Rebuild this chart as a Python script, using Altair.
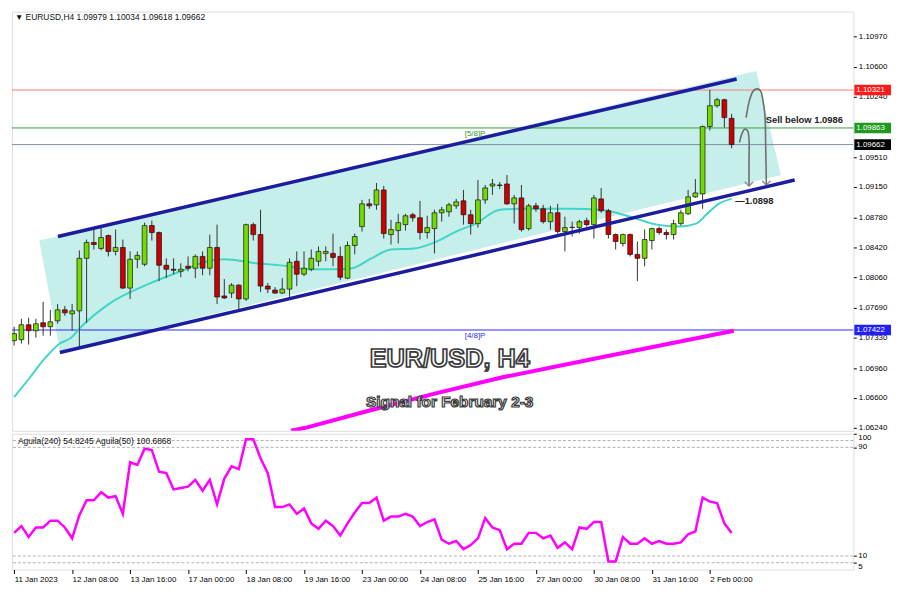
import altair as alt
import pandas as pd

# ---------------- data ----------------
bar_index = list(range(100))
opens = [1.07293, 1.07305, 1.07485, 1.07413, 1.07509, 1.07461, 1.07533, 1.07665, 1.07617, 1.07653,
         1.08288, 1.08479, 1.08407, 1.08563, 1.08371, 1.08419, 1.07928, 1.08276, 1.08216, 1.08683,
         1.08599, 1.08204, 1.08156, 1.08132, 1.08192, 1.08168, 1.08311, 1.08168, 1.08419, 1.07833,
         1.07868, 1.07964, 1.07797, 1.08695, 1.08575, 1.07952, 1.07904, 1.07868, 1.07916, 1.08252,
         1.08096, 1.08156, 1.08252, 1.08347, 1.08347, 1.08311, 1.08048, 1.08443, 1.08671, 1.08946,
         1.08934, 1.09114, 1.08575, 1.08623, 1.08695, 1.08814, 1.08778, 1.08599, 1.08647, 1.08838,
         1.08850, 1.08922, 1.08982, 1.08814, 1.08707, 1.08994, 1.09162, 1.09174, 1.09186, 1.08946,
         1.09018, 1.08647, 1.08922, 1.08886, 1.08731, 1.08838, 1.08611, 1.08659, 1.08659, 1.08743,
         1.08695, 1.09006, 1.08862, 1.08575, 1.08467, 1.08575, 1.08335, 1.08288, 1.08503, 1.08647,
         1.08599, 1.08575, 1.08707, 1.08826, 1.09030, 1.09066, 1.09880, 1.10132, 1.10204, 1.09979]
highs = [1.07461, 1.07557, 1.07569, 1.07557, 1.07761, 1.07665, 1.07737, 1.07713, 1.07737, 1.08383,
         1.08515, 1.08647, 1.08659, 1.08575, 1.08635, 1.08515, 1.08371, 1.08371, 1.08719, 1.08743,
         1.08611, 1.08288, 1.08288, 1.08228, 1.08311, 1.08335, 1.08371, 1.08575, 1.08695, 1.08036,
         1.07988, 1.07976, 1.08707, 1.08719, 1.08874, 1.07988, 1.07940, 1.08048, 1.08288, 1.08371,
         1.08371, 1.08395, 1.08431, 1.08431, 1.08587, 1.08431, 1.08491, 1.08587, 1.08994, 1.09006,
         1.09198, 1.09162, 1.08754, 1.08826, 1.08826, 1.08838, 1.08982, 1.08802, 1.08874, 1.08910,
         1.08958, 1.09006, 1.09114, 1.08874, 1.09234, 1.09174, 1.09246, 1.09210, 1.09294, 1.09054,
         1.09174, 1.08946, 1.08958, 1.08934, 1.08922, 1.08946, 1.08790, 1.08731, 1.08754, 1.08778,
         1.09054, 1.09138, 1.08886, 1.08587, 1.08587, 1.08587, 1.08491, 1.08635, 1.08659, 1.08671,
         1.08635, 1.08754, 1.08874, 1.09114, 1.09246, 1.09892, 1.10323, 1.10228, 1.10216, 1.10034]
lows = [1.07234, 1.07258, 1.07246, 1.07330, 1.07353, 1.07353, 1.07497, 1.07593, 1.07413, 1.07210,
        1.07509, 1.08395, 1.08383, 1.08311, 1.08323, 1.07916, 1.07797, 1.08168, 1.08192, 1.08503,
        1.08012, 1.08048, 1.08096, 1.08060, 1.08132, 1.08048, 1.08084, 1.08084, 1.07737, 1.07797,
        1.07809, 1.07665, 1.07773, 1.08503, 1.07880, 1.07868, 1.07857, 1.07857, 1.07809, 1.07952,
        1.08072, 1.08132, 1.08192, 1.08252, 1.08192, 1.08024, 1.08036, 1.08335, 1.08611, 1.08886,
        1.08874, 1.08527, 1.08455, 1.08467, 1.08623, 1.08731, 1.08515, 1.08527, 1.08347, 1.08731,
        1.08790, 1.08886, 1.08695, 1.08575, 1.08659, 1.08946, 1.09054, 1.09126, 1.08934, 1.08707,
        1.08611, 1.08623, 1.08850, 1.08707, 1.08635, 1.08587, 1.08371, 1.08551, 1.08587, 1.08671,
        1.08527, 1.08838, 1.08527, 1.08395, 1.08431, 1.08311, 1.08012, 1.08192, 1.08395, 1.08575,
        1.08515, 1.08515, 1.08683, 1.08814, 1.09018, 1.08886, 1.09832, 1.10108, 1.09868, 1.09618]
closes = [1.07378, 1.07485, 1.07413, 1.07497, 1.07461, 1.07521, 1.07665, 1.07629, 1.07653, 1.08288,
          1.08479, 1.08455, 1.08539, 1.08371, 1.08419, 1.07928, 1.08276, 1.08323, 1.08683, 1.08599,
          1.08204, 1.08156, 1.08144, 1.08156, 1.08168, 1.08311, 1.08168, 1.08419, 1.07821, 1.07809,
          1.07964, 1.07797, 1.08695, 1.08575, 1.07952, 1.07916, 1.07868, 1.07916, 1.08240, 1.08096,
          1.08168, 1.08288, 1.08371, 1.08371, 1.08299, 1.08060, 1.08443, 1.08551, 1.08946, 1.08922,
          1.09114, 1.08587, 1.08635, 1.08719, 1.08802, 1.08778, 1.08599, 1.08659, 1.08838, 1.08874,
          1.08934, 1.08970, 1.08814, 1.08707, 1.08994, 1.09138, 1.09186, 1.09168, 1.08946, 1.09018,
          1.08635, 1.08922, 1.08886, 1.08731, 1.08838, 1.08611, 1.08659, 1.08665, 1.08731, 1.08695,
          1.09018, 1.08862, 1.08575, 1.08491, 1.08575, 1.08335, 1.08288, 1.08515, 1.08647, 1.08599,
          1.08575, 1.08707, 1.08838, 1.09030, 1.09078, 1.09880, 1.10132, 1.10204, 1.09988, 1.09662]

aguila50 = [27, 32, 24, 31, 31, 36, 36, 31, 23, 40, 51, 51, 57, 53, 54, 41, 79, 77, 89, 88,
            72, 71, 59, 60, 61, 66, 58, 66, 48, 67, 76, 74, 96, 96, 82, 71, 46, 46, 48, 41,
            45, 34, 30, 36, 32, 25, 34, 42, 49, 49, 53, 36, 39, 39, 41, 39, 32, 35, 37, 22,
            19, 21, 15, 18, 23, 38, 31, 29, 15, 19, 19, 27, 27, 23, 25, 16, 20, 15, 31, 30,
            35, 35, 6, 6, 24, 19, 19, 23, 19, 21, 19, 19, 20, 26, 28, 53, 50, 49, 34, 27]

ma_bars = [0, 2.2, 4.0, 6.3, 7.9, 9.0, 13.1, 18.5, 23.0, 26.7, 29.0, 33.4, 37.9, 40.2, 44.7,
           46.6, 49.3, 52.0, 55.2, 58.3, 61.0, 63.7, 67.0, 69.7, 76.5, 80.9, 85.0, 88.7, 91.8,
           94.1, 95.5, 97.2, 99.0]
ma_vals = [1.06611, 1.06851, 1.07054, 1.07258, 1.07330, 1.07437, 1.07737, 1.07976, 1.08132,
           1.08252, 1.08276, 1.08228, 1.08192, 1.08156, 1.08156, 1.08168, 1.08288, 1.08395,
           1.08407, 1.08491, 1.08611, 1.08707, 1.08874, 1.08886, 1.08886, 1.08874, 1.08790,
           1.08695, 1.08671, 1.08707, 1.08814, 1.08946, 1.09006]

ma240_bars = [38.2, 40.2, 49.3, 58.3, 67.4, 80.9, 99.3]
ma240_vals = [1.06204, 1.06240, 1.06455, 1.06659, 1.06851, 1.07090, 1.07413]

channel_corner_bars = [3.46, 102.4, 105.8, 6.31]          # TL, TR, BR, BL
channel_corner_prices = [1.08503, 1.10551, 1.09294, 1.07162]

trend_ids = ["upper", "upper", "lower", "lower"]
trend_bars = [6.04, 99.7, 6.31, 107.7]
trend_prices = [1.08551, 1.10455, 1.07150, 1.09234]

level_prices = [1.10321, 1.09863, 1.09662, 1.07422]
level_line_colors = ["#ff7a7a", "#3aa03a", "#8090a0", "#2a2aff"]
level_box_colors = ["#ff1a1a", "#1f9a1f", "#000000", "#1f1fff"]

arrow_ids = ["a1"] * 9 + ["a2"] * 7
arrow_bars = [101.0, 101.5, 102.0, 102.5, 103.0, 103.3, 103.6, 103.7, 103.8,
              100.1, 100.4, 100.8, 101.2, 101.4, 101.4, 101.4]
arrow_prices = [1.09988, 1.10207, 1.10311, 1.10335, 1.10311, 1.10207, 1.10012, 1.09653, 1.09174,
                1.09689, 1.09788, 1.09848, 1.09829, 1.09728, 1.09449, 1.09162]

price_ticks = [1.10970, 1.10600, 1.10240, 1.09510, 1.09150, 1.08780, 1.08420, 1.08060,
               1.07690, 1.07330, 1.06960, 1.06600, 1.06240]
ind_ticks = [100, 90, 10, 5]
ind_levels = [95, 90, 10, 5]
time_tick_bars = [0, 8, 16, 24, 32, 40, 48, 56, 64, 72, 80, 88, 96]
time_tick_labels = ["11 Jan 2023", "12 Jan 08:00", "13 Jan 16:00", "17 Jan 00:00", "18 Jan 08:00",
                    "19 Jan 16:00", "23 Jan 00:00", "24 Jan 08:00", "25 Jan 16:00", "27 Jan 00:00",
                    "30 Jan 08:00", "31 Jan 16:00", "2 Feb 00:00"]

header_text = "\u25BC EURUSD,H4  1.09979 1.10034 1.09618 1.09662"
ind_header_text = "Aguila(240) 54.8245   Aguila(50) 100.6868"

# ---------------- layout ----------------
W = 849
H_MAIN = 423
H_IND = 137
X_DOMAIN = [-0.3, 115.8]
P_DOMAIN = [1.06204, 1.11269]
FONT = "Liberation Sans"

xs = alt.Scale(domain=X_DOMAIN, nice=False, zero=False)
ys = alt.Scale(domain=P_DOMAIN, nice=False, zero=False)
main_y_axis = alt.Axis(orient="right", values=price_ticks, format=".5f", title=None, grid=False,
                       domain=False, tickSize=3, labelPadding=2, labelFontSize=8, labelFont=FONT,
                       labelColor="#000", tickColor="#000", labelOverlap=False)


def X(field):
    return alt.X(field, type="quantitative", scale=xs, axis=None)


def Y(field):
    return alt.Y(field, type="quantitative", scale=ys, axis=main_y_axis)


# channel polygon drawn as an area (boundaries from its four corners)
tl, tr, br, bl = list(zip(channel_corner_bars, channel_corner_prices))


def lin(a, b, x):
    return a[1] + (b[1] - a[1]) * (x - a[0]) / (b[0] - a[0])


ch_x = [tl[0], bl[0], tr[0], br[0]]
ch_top = [tl[1], lin(tl, tr, bl[0]), tr[1], br[1]]
ch_bot = [tl[1], bl[1], lin(bl, br, tr[0]), br[1]]
channel_df = pd.DataFrame({"i": ch_x, "top": ch_top, "bot": ch_bot})

channel = alt.Chart(channel_df).mark_area(color="#c6eeea", opacity=1).encode(
    x=X("i"), y=Y("top"), y2="bot")

levels_df = pd.DataFrame({"p": level_prices, "lc": level_line_colors, "bc": level_box_colors})
hlines = alt.Chart(levels_df).mark_rule(strokeWidth=1).encode(
    y=Y("p"), color=alt.Color("lc:N", scale=None))

ma240 = alt.Chart(pd.DataFrame({"i": ma240_bars, "p": ma240_vals})).mark_line(
    color="#ff00ff", strokeWidth=4, clip=True).encode(x=X("i"), y=Y("p"))

ma = alt.Chart(pd.DataFrame({"i": ma_bars, "p": ma_vals})).mark_line(
    color="#3fd6c8", strokeWidth=2, interpolate="monotone", clip=True).encode(x=X("i"), y=Y("p"))

candles_df = pd.DataFrame({"i": bar_index, "o": opens, "h": highs, "l": lows, "c": closes})
base = alt.Chart(candles_df)
wicks = base.mark_rule(color="#333333", strokeWidth=1, clip=True).encode(
    x=X("i"), y=Y("l"), y2="h")
bodies = base.transform_calculate(x0="datum.i - 0.33", x1="datum.i + 0.33").mark_rect(
    stroke="#111111", strokeWidth=0.7, clip=True).encode(
    x=X("x0:Q"), x2="x1:Q", y=Y("o"), y2="c",
    fill=alt.condition("datum.c >= datum.o", alt.value("#72dc00"), alt.value("#cc0000")))

trend_df = pd.DataFrame({"id": trend_ids, "i": trend_bars, "p": trend_prices})
trend = alt.Chart(trend_df).mark_line(color="#1c1c9e", strokeWidth=3.5).encode(
    x=X("i"), y=Y("p"), detail="id:N")

arrow_df = pd.DataFrame({"id": arrow_ids, "i": arrow_bars, "p": arrow_prices,
                         "seq": list(range(len(arrow_bars)))})
arrows = alt.Chart(arrow_df).mark_line(color="#6e6e6e", strokeWidth=1.6,
                                       interpolate="catmull-rom").encode(
    x=X("i"), y=Y("p"), detail="id:N", order="seq:Q")
heads_df = arrow_df.groupby("id").tail(1)
heads = alt.Chart(heads_df).mark_point(shape="M-1,-1L0,0L1,-1", size=70, filled=False,
                                       color="#6e6e6e", strokeWidth=1.6).encode(
    x=X("i"), y=Y("p"))

ann_df = pd.DataFrame({"i": [103.7, 99.5], "p": [1.09964, 1.08980],
                       "t": ["Sell below 1.0986", "\u20141.0898"]})
ann = alt.Chart(ann_df).mark_text(align="left", baseline="middle", font=FONT, fontSize=9.5,
                                  fontWeight="bold", color="#222222").encode(
    x=X("i"), y=Y("p"), text="t:N")

lvl_txt_df = pd.DataFrame({"i": [63.6, 63.6], "p": [1.09863, 1.07422], "t": ["[5/8]P", "[4/8]P"],
                           "c": ["#2e9a2e", "#2a2aff"]})
lvl_txt = alt.Chart(lvl_txt_df).mark_text(align="center", baseline="middle", dy=6, font=FONT,
                                          fontSize=8).encode(
    x=X("i"), y=Y("p"), text="t:N", color=alt.Color("c:N", scale=None))

title_df = pd.DataFrame({"i": [60.1, 60.1], "p": [1.07066, 1.06551],
                         "t": ["EUR/USD, H4", "Signal for February 2-3"], "s": [25.5, 15.5],
                         "w": [1.7, 1.2]})
title_txt = alt.Chart(title_df).mark_text(align="center", baseline="middle", font=FONT,
                                          fontWeight="bold", fill="#ffffff",
                                          stroke="#3a3a3a").encode(
    x=X("i"), y=Y("p"), text="t:N", size=alt.Size("s:Q", scale=None),
    strokeWidth=alt.StrokeWidth("w:Q", scale=None))

boxes = alt.Chart(levels_df).transform_calculate(
    top="datum.p + 0.00064", bot="datum.p - 0.00064").mark_rect().encode(
    x=alt.value(850), x2=alt.value(887), y=Y("top:Q"), y2="bot:Q",
    color=alt.Color("bc:N", scale=None))
box_txt = alt.Chart(levels_df).mark_text(align="left", baseline="middle", font=FONT, fontSize=8,
                                         color="#ffffff").encode(
    x=alt.value(852), y=Y("p"), text=alt.Text("p:Q", format=".5f"))

header = alt.Chart(pd.DataFrame({"t": [header_text]})).mark_text(
    align="left", baseline="top", font=FONT, fontSize=8.5, color="#111111").encode(
    x=alt.value(3), y=alt.value(1), text="t:N")

main = alt.layer(channel, hlines, ma240, ma, wicks, bodies, trend, arrows, heads, ann, lvl_txt,
                 title_txt, boxes, box_txt, header).properties(width=W, height=H_MAIN)

# ---------------- indicator panel ----------------
label_js = "[" + ",".join("'" + s + "'" for s in time_tick_labels) + "]"
ind_x_axis = alt.Axis(values=time_tick_bars, labelExpr=label_js + "[round(datum.value / 8)]",
                      labelAlign="left", labelPadding=2, tickSize=4, grid=False, domain=False,
                      title=None, labelFontSize=8, labelFont=FONT, labelColor="#000",
                      tickColor="#000", labelOverlap=False, labelFlush=False, labelBound=False)
iys = alt.Scale(domain=[0, 100], nice=False, zero=False)
ind_y_axis = alt.Axis(orient="right", values=ind_ticks, title=None, grid=False, labels=False,
                      domain=False, tickSize=3, tickColor="#000")


def IX(field):
    return alt.X(field, type="quantitative", scale=xs, axis=ind_x_axis)


def IY(field):
    return alt.Y(field, type="quantitative", scale=iys, axis=ind_y_axis)


lvl_rules = alt.Chart(pd.DataFrame({"v": ind_levels})).mark_rule(
    color="#b0b0b0", strokeDash=[3, 2], strokeWidth=1).encode(y=IY("v"))
agl = alt.Chart(pd.DataFrame({"i": bar_index, "v": aguila50})).mark_line(
    color="#ff00ff", strokeWidth=2.5).encode(x=IX("i"), y=IY("v"))
ind_header = alt.Chart(pd.DataFrame({"t": [ind_header_text]})).mark_text(
    align="left", baseline="middle", font=FONT, fontSize=8.5, color="#111111").encode(
    x=alt.value(6), y=alt.value(7), text="t:N")

ind_lab_df = pd.DataFrame({"v": ind_ticks})
ind_labels = []
for vals, bl_ in [([100, 5], "top"), ([90, 10], "middle")]:
    ind_labels.append(
        alt.Chart(ind_lab_df).transform_filter(
            alt.FieldOneOfPredicate(field="v", oneOf=vals)).mark_text(
            align="left", baseline=bl_, font=FONT, fontSize=8, color="#000").encode(
            x=alt.value(W + 5), y=IY("v"), text=alt.Text("v:Q", format="d")))

ind = alt.layer(lvl_rules, agl, ind_header, *ind_labels).properties(width=W, height=H_IND)

chart = alt.vconcat(main, ind, spacing=3, bounds="flush").properties(padding=0).configure_view(
    stroke="#3a3a3a", strokeWidth=1).configure(background="#ffffff")

chart.save("out.html", embed_options={"renderer": "svg", "actions": False})
